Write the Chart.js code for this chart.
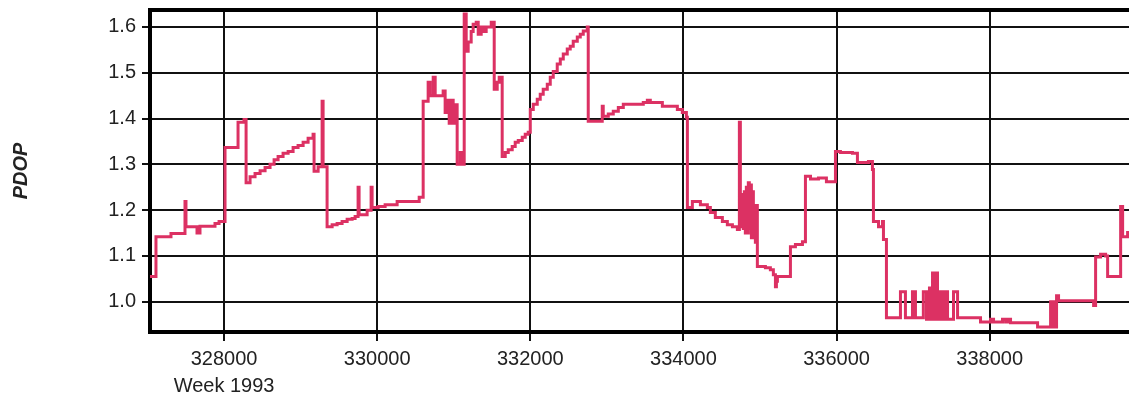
<!DOCTYPE html>
<html><head><meta charset="utf-8">
<script src="https://cdn.jsdelivr.net/npm/chart.js@4"></script>
<style>html,body{margin:0;padding:0;overflow:hidden;background:#fff;width:1129px;height:402px}</style>
</head><body>
<canvas id="c" width="1142" height="402" style="width:1142px;height:402px;display:block"></canvas>
<script>
// Seconds of GPS week (x) and PDOP values (y)
const weekSeconds = [
327033,327111,327307,327490,327503,327647,327686,327882,327935,328013,328183,328261,328288,
328340,328405,328471,328536,328601,328654,328706,328771,328837,328902,328967,329033,329098,329163,
329176,329229,329281,329294,329346,329412,329477,329542,329608,329673,329712,329751,329764,329869,
329921,329934,330013,330104,330261,330549,330601,330666,330692,330732,330758,330862,330888,330915,
330941,330967,330993,331019,331045,331085,331111,331137,331163,331189,331228,331254,331294,331320,
331359,331385,331424,331490,331529,331568,331594,331633,331673,331712,331764,331803,331843,331895,
331934,331973,332000,332039,332091,332130,332169,332222,332261,332300,332352,332392,332431,332483,
332522,332561,332614,332653,332692,332744,332757,332940,332953,333019,333084,333150,333215,333476,
333529,333568,333725,333921,333986,334039,334052,334117,334222,334313,334352,334417,334509,334574,
334640,334705,334731,334744,334770,334783,334796,334809,334822,334835,334848,334861,334875,334888,
334901,334914,334927,334940,334953,334966,335071,335136,335175,335202,335215,335228,335398,335463,
335555,335594,335660,335764,335868,335986,336051,336208,336273,336417,336469,336482,336548,336600,
336613,336652,336835,336900,336992,337031,337134,337175,337188,337201,337214,337227,337241,337254,
337267,337280,337293,337306,337319,337332,337345,337358,337371,337384,337398,337411,337424,337437,
337450,337528,337581,337881,338012,338051,338168,338208,338234,338273,338626,338796,338835,338874,
338900,339358,339384,339449,339515,339541,339711,339737,339802,339990
];
const pdop = [
1.055,1.142,1.149,1.219,1.164,1.150,1.165,1.171,1.175,1.337,1.392,1.398,1.260,
1.273,1.280,1.286,1.293,1.300,1.310,1.317,1.324,1.328,1.337,1.341,1.348,1.357,1.366,
1.285,1.295,1.438,1.295,1.164,1.168,1.171,1.175,1.180,1.182,1.186,1.250,1.190,1.200,
1.250,1.206,1.208,1.212,1.219,1.228,1.438,1.479,1.450,1.490,1.450,1.460,1.413,1.440,
1.390,1.440,1.390,1.430,1.300,1.326,1.300,1.628,1.547,1.567,1.590,1.606,1.610,1.584,
1.600,1.590,1.600,1.610,1.464,1.479,1.490,1.317,1.326,1.332,1.339,1.348,1.352,1.359,
1.366,1.370,1.420,1.431,1.442,1.453,1.464,1.475,1.490,1.503,1.519,1.530,1.541,1.552,
1.558,1.569,1.578,1.584,1.591,1.600,1.394,1.427,1.405,1.410,1.416,1.424,1.431,1.435,
1.440,1.435,1.427,1.420,1.413,1.403,1.206,1.219,1.212,1.206,1.195,1.184,1.175,1.168,
1.164,1.158,1.392,1.164,1.234,1.160,1.240,1.150,1.250,1.150,1.260,1.160,1.255,1.140,
1.240,1.150,1.210,1.130,1.210,1.077,1.074,1.070,1.059,1.033,1.045,1.055,1.120,1.125,
1.131,1.274,1.268,1.270,1.262,1.328,1.326,1.324,1.304,1.306,1.289,1.175,1.164,1.175,
1.136,0.965,1.022,0.965,1.022,0.965,1.022,0.962,1.022,0.962,1.030,0.962,1.022,1.063,
0.962,1.063,0.962,1.063,0.962,1.022,0.962,1.022,0.962,1.022,0.962,1.022,0.962,1.022,
0.962,1.022,0.965,0.956,0.962,0.956,0.962,0.956,0.962,0.954,0.945,1.000,0.945,1.013,
1.002,0.992,1.098,1.104,1.100,1.055,1.208,1.142,1.151,1.151
];
const xTickValues = [328000, 330000, 332000, 334000, 336000, 338000];
const weekLabel = 'Week 1993';
const yAxisTitle = 'PDOP';

const points = weekSeconds.map((x, i) => ({x, y: pdop[i]}));

const framePlugin = {
  id: 'frameTop',
  afterDraw(chart) {
    const {ctx, chartArea} = chart;
    ctx.save();
    ctx.strokeStyle = '#000';
    ctx.lineWidth = 4;
    ctx.beginPath();
    ctx.moveTo(chartArea.left - 2, chartArea.top);
    ctx.lineTo(chartArea.right + 2, chartArea.top);
    ctx.stroke();
    ctx.restore();
  }
};

Chart.defaults.font.family = "'Liberation Sans', Arial, sans-serif";
Chart.defaults.font.size = 20;
Chart.defaults.color = '#222';

new Chart(document.getElementById('c'), {
  type: 'line',
  data: {
    datasets: [{
      data: points,
      borderColor: '#dc3163',
      borderWidth: 3,
      stepped: true,
      pointRadius: 0,
      fill: false
    }]
  },
  options: {
    responsive: false,
    animation: false,
    events: [],
    layout: {padding: {top: 10, left: 0, right: 0, bottom: 0}},
    plugins: {legend: {display: false}, tooltip: {enabled: false}, title: {display: false}},
    scales: {
      x: {
        type: 'linear',
        min: 327033,
        max: 339990,
        afterBuildTicks(scale) { scale.ticks = xTickValues.map(v => ({value: v})); },
        afterFit(scale) { scale.height = 70; scale.paddingLeft = 0; scale.paddingRight = 0; },
        grid: {color: '#111', lineWidth: 2, tickLength: 9, drawTicks: true},
        border: {display: true, color: '#000', width: 4},
        ticks: {
          autoSkip: false, maxRotation: 0, padding: 5,
          font: {size: 20, lineHeight: 1.35},
          callback: (v) => v === xTickValues[0] ? [String(v), weekLabel] : String(v)
        }
      },
      y: {
        type: 'linear',
        min: 0.934,
        max: 1.637,
        afterFit(scale) { scale.width = 150; scale.paddingTop = 0; scale.paddingBottom = 0; },
        grid: {color: '#111', lineWidth: 2, tickLength: 8, drawTicks: true},
        border: {display: true, color: '#000', width: 4},
        title: {display: true, text: yAxisTitle, font: {size: 20, weight: 'bold', style: 'italic'}, padding: {top: 9, bottom: 0}},
        ticks: {
          stepSize: 0.1, includeBounds: false, padding: 6,
          callback: (v) => Number(v).toFixed(1)
        }
      }
    }
  },
  plugins: [framePlugin]
});
</script>
</body></html>
